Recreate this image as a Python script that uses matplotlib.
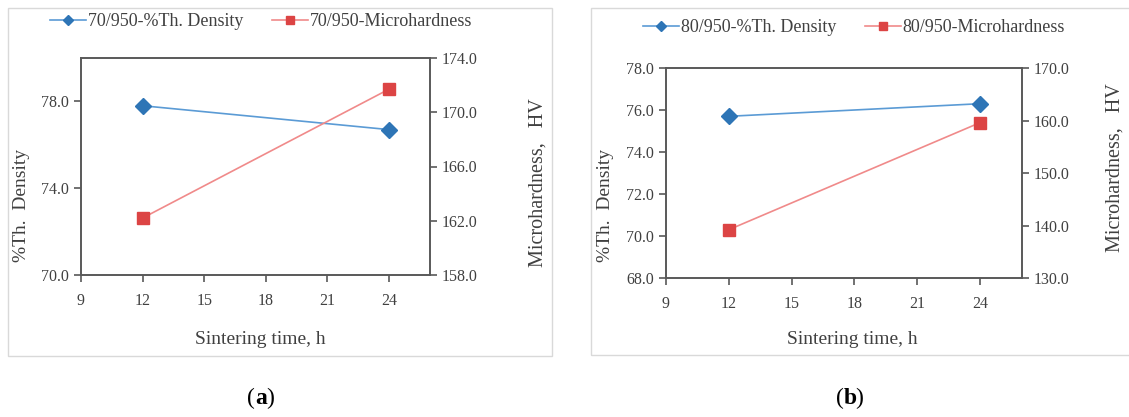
import matplotlib
matplotlib.use("Agg")
import matplotlib.pyplot as plt
from matplotlib.lines import Line2D
from matplotlib.patches import Rectangle

plt.rcParams['font.family'] = ['Liberation Serif', 'DejaVu Serif']

# sintering times (h)
time_h = [12, 24]

# panel (a): 70/950
dens_70 = [77.8, 76.7]
hard_70 = [162.2, 171.7]

# panel (b): 80/950
dens_80 = [75.7, 76.3]
hard_80 = [139.2, 159.6]

x_ticks = [9, 12, 15, 18, 21, 24]

W, H = 1129, 417
TXT = '#404040'
AX = '#595959'
BLUE_LINE = '#5b9bd5'
BLUE_MK = '#2e75b6'
RED_LINE = '#f08a8a'
RED_MK = '#dc4444'

fig = plt.figure(figsize=(W / 100, H / 100), dpi=100)


def px_axes(left, top, right, bottom):
    return fig.add_axes([left / W, 1 - bottom / H, (right - left) / W, (bottom - top) / H])


def panel(box, rect, dens, hard, name, dlim, dticks, hlim, hticks,
          leg_xy, xlab_xy, yl_xy, yr_xy, tag_xy, tag):
    # outer chart border
    bx0, by0, bx1, by1 = box
    fig.patches.append(Rectangle((bx0 / W, 1 - by1 / H), (bx1 - bx0) / W, (by1 - by0) / H,
                                 transform=fig.transFigure, fill=False,
                                 edgecolor='#d9d9d9', linewidth=1.0))
    ax = px_axes(*rect)
    ax2 = ax.twinx()
    ax.plot(time_h, dens, color=BLUE_LINE, linewidth=1.2, marker='D', markersize=8,
            markerfacecolor=BLUE_MK, markeredgecolor=BLUE_MK, zorder=3)
    ax2.plot(time_h, hard, color=RED_LINE, linewidth=1.2, marker='s', markersize=9,
             markerfacecolor=RED_MK, markeredgecolor=RED_MK, zorder=3)
    ax.set_xlim(9, 26)
    ax.set_xticks(x_ticks)
    ax.set_ylim(*dlim)
    ax.set_yticks(dticks)
    ax.set_yticklabels([f'{v:.1f}' for v in dticks])
    ax2.set_ylim(*hlim)
    ax2.set_yticks(hticks)
    ax2.set_yticklabels([f'{v:.1f}' for v in hticks])
    for a in (ax, ax2):
        for s in a.spines.values():
            s.set_color(AX)
            s.set_linewidth(1.2)
        a.tick_params(colors=AX, labelcolor=TXT, labelsize=11.5, length=5, width=1.2)
    ax.tick_params(axis='x', pad=8)

    handles = [Line2D([], [], color=BLUE_LINE, marker='D', markersize=5,
                      markerfacecolor=BLUE_MK, markeredgecolor=BLUE_MK, linewidth=1.2),
               Line2D([], [], color=RED_LINE, marker='s', markersize=6,
                      markerfacecolor=RED_MK, markeredgecolor=RED_MK, linewidth=1.2)]
    fig.legend(handles, [f'{name}-%Th. Density', f'{name}-Microhardness'],
               loc='center', bbox_to_anchor=(leg_xy[0] / W, 1 - leg_xy[1] / H), ncol=2,
               frameon=False, fontsize=13, handlelength=2.0, handletextpad=0.1,
               columnspacing=1.6, labelcolor=TXT)

    fig.text(xlab_xy[0] / W, 1 - xlab_xy[1] / H, 'Sintering time, h', ha='center', va='center',
             fontsize=14, color=TXT)
    fig.text(yl_xy[0] / W, 1 - yl_xy[1] / H, '%Th.  Density', ha='center', va='center',
             rotation=90, fontsize=14, color=TXT)
    fig.text(yr_xy[0] / W, 1 - yr_xy[1] / H, 'Microhardness,   HV', ha='center', va='center',
             rotation=90, fontsize=14.5, color=TXT)
    fig.text(tag_xy[0] / W, 1 - tag_xy[1] / H, '(', ha='right', va='center', fontsize=17,
             color='black')
    fig.text(tag_xy[0] / W, 1 - tag_xy[1] / H, tag, ha='left', va='center', fontsize=17,
             color='black', fontweight='bold')
    fig.text((tag_xy[0] + 11) / W, 1 - tag_xy[1] / H, ')', ha='left', va='center', fontsize=17,
             color='black')


panel((8, 8, 552, 356), (81, 58, 430, 275), dens_70, hard_70, '70/950',
      (70, 80), [70, 74, 78], (158, 174), [158, 162, 166, 170, 174],
      (261, 22), (260, 340), (22, 205), (538, 183), (255, 398), 'a')

panel((591, 8, 1135, 355), (666, 68, 1022, 278), dens_80, hard_80, '80/950',
      (68, 78), [68, 70, 72, 74, 76, 78], (130, 170), [130, 140, 150, 160, 170],
      (854, 28), (852, 340), (605, 205), (1115, 168), (844, 398), 'b')

fig.savefig('out.png', dpi=100)
